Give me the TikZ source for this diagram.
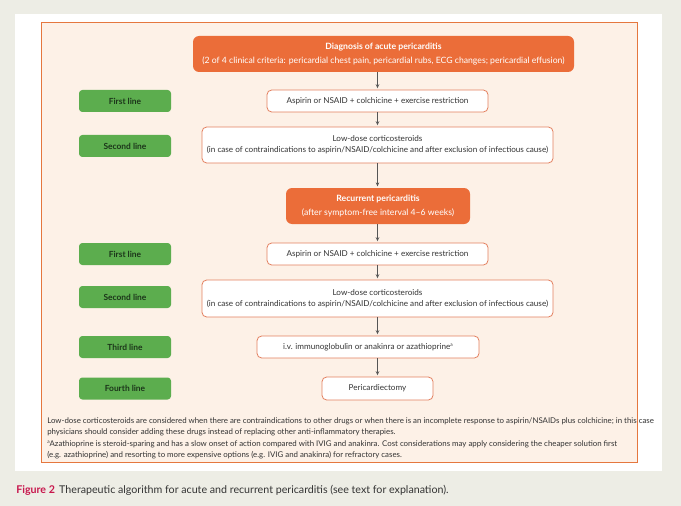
\documentclass[tikz,border=0pt]{standalone}
\usepackage{fontspec}
\setmainfont{Lato}
\usetikzlibrary{arrows.meta}
\definecolor{cBg}{HTML}{EDEDE5}
\definecolor{cFrameFill}{HTML}{FDF1E7}
\definecolor{cFrame}{HTML}{E5773E}
\definecolor{cOrange}{HTML}{EB6D39}
\definecolor{cSalmon}{HTML}{E3805F}
\definecolor{cGreen}{HTML}{5CAD4E}
\definecolor{cGreenText}{HTML}{1C351A}
\definecolor{cText}{HTML}{333333}
\definecolor{cArrow}{HTML}{555555}
\definecolor{cFig}{HTML}{C8174D}
\newcommand{\supa}{\raisebox{0.75ex}{\fontsize{3.6}{4}\selectfont a}}
\begin{document}
\begin{tikzpicture}[x=0.75pt,y=-0.75pt,
  whitebox/.style={draw=cSalmon, line width=0.6pt, fill=white, rounded corners=3.5pt, inner sep=0pt, align=center, text=cText, font=\fontsize{6.1}{8}\selectfont},
  orangebox/.style={fill=cOrange, rounded corners=4.5pt, inner sep=0pt, align=center, text=white, font=\fontsize{6.5}{10}\selectfont},
  greenbox/.style={fill=cGreen, rounded corners=2.5pt, inner sep=0pt, minimum width=69pt, minimum height=16.5pt, text=cGreenText, font=\fontsize{6.3}{8}\selectfont\bfseries},
  flowarrow/.style={draw=cArrow, line width=0.6pt, -{Stealth[length=3pt,width=2.6pt]}, shorten >=1pt},
  note/.style={anchor=base west, inner sep=0pt, text=cText, font=\fontsize{5.9}{8}\selectfont}]
\useasboundingbox (0,0) rectangle (681,506);
\fill[cBg] (0,0) rectangle (681,506);
\fill[white] (15,14) rectangle (662,471);
\draw[cFrame, fill=cFrameFill, line width=0.7pt] (41,22) rectangle (637,462);

% flow boxes
\node[orangebox, minimum width=285.75pt, minimum height=27pt] (diag) at (383.5,54)
  {\textbf{Diagnosis of acute pericarditis}\\(2 of 4 clinical criteria: pericardial chest pain, pericardial rubs, ECG changes; pericardial effusion)};
\node[whitebox, minimum width=165.75pt, minimum height=16.5pt] (fl1) at (377.5,101)
  {Aspirin or NSAID + colchicine + exercise restriction};
\node[whitebox, minimum width=263.25pt, minimum height=27pt] (sl1) at (377.5,145)
  {Low-dose corticosteroids\\(in case of contraindications to aspirin/NSAID/colchicine and after exclusion of infectious cause)};
\node[orangebox, minimum width=138pt, minimum height=27pt] (rec) at (378,206)
  {\textbf{Recurrent pericarditis}\\(after symptom-free interval 4–6 weeks)};
\node[whitebox, minimum width=165.75pt, minimum height=16.5pt] (fl2) at (377.5,254)
  {Aspirin or NSAID + colchicine + exercise restriction};
\node[whitebox, minimum width=263.25pt, minimum height=27.75pt] (sl2) at (377.5,298.5)
  {Low-dose corticosteroids\\(in case of contraindications to aspirin/NSAID/colchicine and after exclusion of infectious cause)};
\node[whitebox, minimum width=166.5pt, minimum height=16.5pt] (tl) at (368,347)
  {i.v. immunoglobulin or anakinra or azathioprine\supa};
\node[whitebox, minimum width=83.25pt, minimum height=17.25pt] (pc) at (377.5,388.5)
  {Pericardiectomy};

% green labels
\node[greenbox] (g1) at (125,101) {First line};
\node[greenbox] (g2) at (125,146) {Second line};
\node[greenbox] (g3) at (125,254) {First line};
\node[greenbox] (g4) at (125,297) {Second line};
\node[greenbox] (g5) at (125,347) {Third line};
\node[greenbox] (g6) at (125,388.5) {Fourth line};

% arrows
\draw[flowarrow] (fl1.north |- diag.south) -- (fl1.north);
\draw[flowarrow] (fl1.south) -- (sl1.north);
\draw[flowarrow] (sl1.south) -- (rec.north -| sl1.south);
\draw[flowarrow] (rec.south -| fl2.north) -- (fl2.north);
\draw[flowarrow] (fl2.south) -- (sl2.north);
\draw[flowarrow] (sl2.south) -- (sl2.south |- tl.north);
\draw[flowarrow] (pc.north |- tl.south) -- (pc.north);

% footnotes
\node[note] (fn1) at (47,423) {Low-dose corticosteroids are considered when there are contraindications to other drugs or when there is an incomplete response to aspirin/NSAIDs plus colchicine; in this case};
\node[note] (fn2) at (47,434.5) {physicians should consider adding these drugs instead of replacing other anti-inflammatory therapies.};
\node[note] (fn3) at (47,446) {\supa Azathioprine is steroid-sparing and has a slow onset of action compared with IVIG and anakinra. Cost considerations may apply considering the cheaper solution first};
\node[note] (fn4) at (47,457.5) {(e.g. azathioprine) and resorting to more expensive options (e.g. IVIG and anakinra) for refractory cases.};

% caption
\node[anchor=base west, inner sep=0pt, text=cText, font=\fontsize{8}{10}\selectfont] (cap) at (16,493)
  {\textcolor{cFig}{\textbf{Figure 2}}\hspace{0.4em}Therapeutic algorithm for acute and recurrent pericarditis (see text for explanation).};
\end{tikzpicture}
\end{document}
